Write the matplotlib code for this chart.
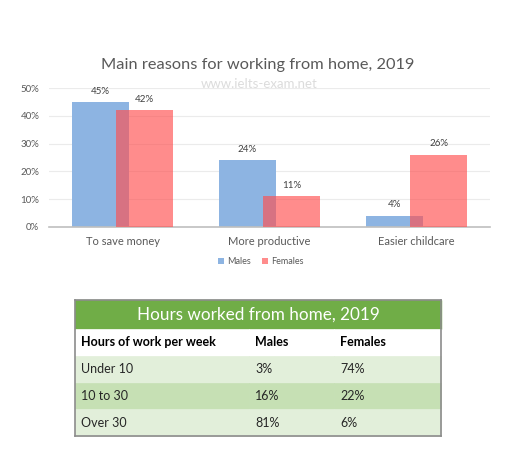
import matplotlib.pyplot as plt
import numpy as np

plt.rcParams['font.family'] = ['Lato', 'DejaVu Sans']

# chart data
reasons = ['To save money', 'More productive', 'Easier childcare']
males = [45, 24, 4]
females = [42, 11, 26]
y_ticks = [0, 10, 20, 30, 40, 50]

# table data
table_title = 'Hours worked from home, 2019'
col_labels = ['Hours of work per week', 'Males', 'Females']
hours = ['Under 10', '10 to 30', 'Over 30']
hours_males = ['3%', '16%', '81%']
hours_females = ['74%', '22%', '6%']

W, H = 512, 454
fig = plt.figure(figsize=(W / 100, H / 100), dpi=100)

# ---- bar chart ----
ax = fig.add_axes([49 / W, (H - 226.7) / H, 441 / W, 138.4 / H])
x = np.arange(len(reasons))
bw = 0.39
off = 0.15
b1 = ax.bar(x - off, males, bw, color='#8DB4E2', zorder=2)
b2 = ax.bar(x + off, females, bw, color=(1.0, 0.31, 0.31, 0.65), zorder=3)
for bars, vals in [(b1, males), (b2, females)]:
    for rect, v in zip(bars, vals):
        ax.annotate(f'{v}%', (rect.get_x() + rect.get_width() / 2, v), xytext=(0, 4.5),
                    textcoords='offset points', ha='center', va='bottom',
                    fontsize=7, color='#404040')

ax.set_xlim(-0.5, 2.5)
ax.set_ylim(0, 50)
ax.set_yticks(y_ticks)
ax.set_yticklabels([f'{t}%' for t in y_ticks])
ax.set_xticks(x)
ax.set_xticklabels(reasons)
ax.tick_params(axis='y', length=0, pad=7, labelsize=7, labelcolor='#595959')
ax.tick_params(axis='x', length=0, pad=7, labelsize=8, labelcolor='#595959')
ax.grid(axis='y', color='#EBEBEB', lw=0.8, zorder=0)
ax.set_axisbelow(True)
for s in ['top', 'right', 'left']:
    ax.spines[s].set_visible(False)
ax.spines['bottom'].set_color('#BFBFBF')
ax.spines['bottom'].set_linewidth(1.2)

fig.text(258 / W, 1 - 65 / H, 'Main reasons for working from home, 2019',
         ha='center', va='center', fontsize=11.8, color='#595959')
fig.text(259 / W, 1 - 84 / H, 'www.ielts-exam.net', ha='center', va='center',
         fontsize=9.5, color='#DCDCDC')

leg = ax.legend([b1, b2], ['Males', 'Females'], loc='center', ncol=2,
                bbox_to_anchor=(0.48, -0.255), frameon=False, fontsize=6.5,
                handlelength=0.7, handleheight=0.7, handletextpad=0.3,
                columnspacing=1.2)
for t in leg.get_texts():
    t.set_color('#595959')

# ---- table ----
tab_h = 136
tax = fig.add_axes([75 / W, (H - 436) / H, 366 / W, tab_h / H])
tax.set_xticks([])
tax.set_yticks([])
for s in tax.spines.values():
    s.set_color('#8C8C8C')
    s.set_linewidth(1.2)
    s.set_zorder(5)

head = tax.table(cellText=[[table_title]], cellLoc='center',
                 bbox=[0, 107 / tab_h, 1, 29 / tab_h])
c = head[0, 0]
c.set_facecolor('#70AD47')
c.set_edgecolor('#70AD47')
c.get_text().set_color('white')
c.get_text().set_fontsize(12.3)

rows = [col_labels] + [[h, m, f] for h, m, f in zip(hours, hours_males, hours_females)]
col_w = [174 / 366, 85 / 366, 107 / 366]
tab = tax.table(cellText=rows, cellLoc='left', colWidths=col_w,
                bbox=[0, 0, 1, 107 / tab_h])
tab.auto_set_font_size(False)
row_colors = ['white', '#E2EFDA', '#C6E0B4', '#E2EFDA']
for (r, ci), cell in tab.get_celld().items():
    cell.set_facecolor(row_colors[r])
    cell.set_edgecolor(row_colors[r])
    cell.set_linewidth(0.5)
    cell.PAD = 6 / 366 / col_w[ci]
    txt = cell.get_text()
    txt.set_fontsize(9)
    txt.set_color('black' if r == 0 else '#262626')
    if r == 0:
        txt.set_fontweight('bold')

fig.savefig('out.png', dpi=100)
